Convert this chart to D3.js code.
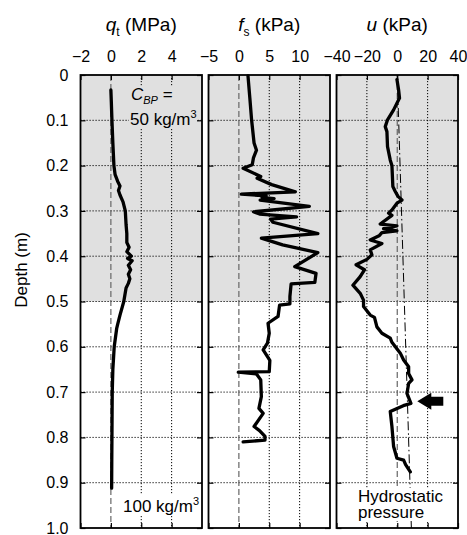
<!DOCTYPE html>
<html lang="en">
<head>
  <meta charset="utf-8">
  <title>CPT profiles</title>
  <script src="https://d3js.org/d3.v7.min.js"></script>
  <style>
    body { margin: 0; background: #fff; }
    svg text { font-family: "Liberation Sans", Arial, sans-serif; fill: #000; }
  </style>
</head>
<body>
  <div id="chart"></div>

  <script>
    // depth axis
    var depthTicks = [0, 0.1, 0.2, 0.3, 0.4, 0.5, 0.6, 0.7, 0.8, 0.9, 1.0];
    var shadeDepth = [0, 0.5];

    // tick labels per panel
    var qtTicks = [-2, 0, 2, 4];
    var fsTicks = [-5, 0, 5, 10];
    var uTicks = [-40, -20, 0, 20, 40];

    // q_t (MPa)
    var qtDepth = [0.033, 0.06, 0.1, 0.15, 0.2, 0.22, 0.235, 0.245, 0.255, 0.265, 0.28, 0.3, 0.33, 0.35, 0.37, 0.38,
                   0.39, 0.4, 0.405, 0.41, 0.42, 0.43, 0.44, 0.45, 0.46, 0.47, 0.5, 0.53, 0.55, 0.56, 0.58, 0.6,
                   0.65, 0.7, 0.75, 0.8, 0.85, 0.912];
    var qtValue = [0.0, 0.03, 0.07, 0.13, 0.2, 0.28, 0.45, 0.6, 0.5, 0.6, 0.8, 0.95, 1.0, 1.05, 1.05, 1.2,
                   1.05, 1.35, 1.1, 1.4, 1.15, 1.3, 1.15, 1.25, 1.15, 1.0, 0.85, 0.6, 0.45, 0.38, 0.3, 0.22,
                   0.13, 0.09, 0.08, 0.07, 0.06, 0.05];

    // f_s (kPa)
    var fsDepth = [0.002, 0.05, 0.1, 0.15, 0.166, 0.183, 0.198, 0.206, 0.224, 0.228, 0.242, 0.258, 0.263, 0.267,
                   0.27, 0.273, 0.276, 0.29, 0.302, 0.307, 0.313, 0.318, 0.325, 0.35, 0.36, 0.375, 0.392, 0.423,
                   0.438, 0.458, 0.461, 0.489, 0.505, 0.508, 0.533, 0.548, 0.57, 0.592, 0.607, 0.63, 0.655,
                   0.656, 0.66, 0.673, 0.71, 0.736, 0.747, 0.776, 0.785, 0.798, 0.806, 0.81];
    var fsValue = [1.5, 1.8, 2.1, 2.5, 2.9, 2.4, 2.2, 0.7, 3.6, 3.0, 5.4, 9.3, 0.4, 4.5,
                   3.8, 5.8, 3.5, 11.6, 2.4, 3.4, 9.5, 5.2, 5.6, 13.0, 3.7, 7.2, 13.0, 9.2,
                   12.7, 12.5, 8.6, 8.4, 8.4, 6.7, 6.45, 4.8, 5.0, 4.7, 4.0, 5.1, 5.0,
                   -0.1, 2.9, 3.6, 3.7, 3.3, 4.0, 2.5, 3.4, 4.3, 4.3, 0.7];

    // u (kPa)
    var uDepth = [0.01, 0.033, 0.051, 0.077, 0.099, 0.114, 0.125, 0.158, 0.188, 0.2, 0.246, 0.257, 0.268, 0.276,
                  0.283, 0.298, 0.305, 0.31, 0.329, 0.333, 0.339, 0.344, 0.348, 0.355, 0.364, 0.368, 0.372,
                  0.386, 0.397, 0.407, 0.419, 0.43, 0.445, 0.464, 0.482, 0.497, 0.511, 0.53, 0.535, 0.556,
                  0.57, 0.581, 0.59, 0.614, 0.629, 0.644, 0.659, 0.673, 0.681, 0.703, 0.725, 0.73, 0.743,
                  0.776, 0.82, 0.846, 0.85, 0.86, 0.876];
    var uValue = [-0.2, 0.9, 1.5, -2.4, -6.4, -7.9, -6.8, -6.4, -4.6, -3.5, -2.9, -1.3, 0.5, 3.1,
                  -0.2, -3.5, -5.7, -3.5, -11.2, -0.2, -9.0, -0.2, -10.1, -12, -17.8, -14, -10.1,
                  -17.8, -16.7, -20, -27.1, -21.6, -24.4, -29.2, -24.4, -22.2, -22.2, -17.8, -15, -13.4,
                  -10.1, -4.6, -3.5, 2.0, 4.2, 7.5, 7.5, 9.7, 7.5, 6.4, 9.0, 4.0, -4.6,
                  -3.5, -2.4, -0.2, 4.2, 5.5, 8.6];

    // hydrostatic pressure line (kPa)
    var hydroDepth = [0, 1.0];
    var hydroU = [0, 9.3];

    var width = 467, height = 535;
    var plotTop = 75, plotBottom = 528, panelW = 121.5;
    var shadeColor = "#e0e0e0";

    var svg = d3.select("#chart").append("svg")
      .attr("width", width)
      .attr("height", height);

    var y = d3.scaleLinear().domain([0, 1]).range([plotTop, plotBottom]);

    var panels = [
      { left: 80.5, domain: [-2, 6], ticks: qtTicks, grid: [0, 2, 4], depth: qtDepth, values: qtValue,
        sym: "q", sub: "t", unit: " (MPa)" },
      { left: 208.5, domain: [-5, 15], ticks: fsTicks, grid: [0, 5, 10], depth: fsDepth, values: fsValue,
        sym: "f", sub: "s", unit: " (kPa)" },
      { left: 336.5, domain: [-40, 40], ticks: uTicks, grid: [-20, 0, 20], depth: uDepth, values: uValue,
        sym: "u", sub: "", unit: " (kPa)" }
    ];

    panels.forEach(function(p) {
      p.x = d3.scaleLinear().domain(p.domain).range([p.left, p.left + panelW]);
    });

    // background box behind one or more texts
    function addBg(g, texts, color, pad) {
      var boxes = texts.map(t => t.node().getBBox());
      var x0 = d3.min(boxes, b => b.x), x1 = d3.max(boxes, b => b.x + b.width);
      var y0 = d3.min(boxes, b => b.y), y1 = d3.max(boxes, b => b.y + b.height);
      g.insert("rect", function() { return texts[0].node(); })
        .attr("x", x0 - pad).attr("y", y0 + pad)
        .attr("width", x1 - x0 + 2 * pad).attr("height", y1 - y0 - 2 * pad)
        .attr("fill", color);
    }

    panels.forEach(function(p, i) {
      var x = p.x;
      var g = svg.append("g");

      // shading for the upper layer
      g.append("rect")
        .attr("x", x.range()[0]).attr("y", y(shadeDepth[0]))
        .attr("width", panelW).attr("height", y(shadeDepth[1]) - y(shadeDepth[0]))
        .attr("fill", shadeColor);

      // horizontal grid
      g.selectAll(".hgrid")
        .data(depthTicks.slice(1, -1))
        .enter().append("line")
        .attr("x1", x.range()[0]).attr("x2", x.range()[1])
        .attr("y1", d => y(d)).attr("y2", d => y(d))
        .attr("stroke", "#000").attr("stroke-width", 1)
        .attr("stroke-dasharray", "1.2,1.8");

      // vertical grid (zero line dashed grey)
      g.selectAll(".vgrid")
        .data(p.grid)
        .enter().append("line")
        .attr("x1", d => x(d)).attr("x2", d => x(d))
        .attr("y1", plotTop).attr("y2", plotBottom)
        .attr("stroke", d => d === 0 ? "#666" : "#000")
        .attr("stroke-width", d => d === 0 ? 1.2 : 1)
        .attr("stroke-dasharray", d => d === 0 ? "6,3" : "1.2,1.8");

      if (i === 2) {
        g.append("path")
          .datum(d3.zip(hydroDepth, hydroU))
          .attr("fill", "none")
          .attr("stroke", "#000")
          .attr("stroke-width", 1)
          .attr("stroke-dasharray", "9,3,1.5,3")
          .attr("d", d3.line().x(d => x(d[1])).y(d => y(d[0])));
      }

      // annotations
      if (i === 0) {
        var t1 = g.append("text").attr("x", 131).attr("y", 100).style("font-size", "17px");
        t1.append("tspan").style("font-style", "italic").text("C");
        t1.append("tspan").style("font-style", "italic").style("font-size", "11px").attr("dy", 4).text("BP");
        t1.append("tspan").attr("dy", -4).text(" =");
        var t2 = g.append("text").attr("x", 130).attr("y", 125).style("font-size", "17px");
        t2.append("tspan").text("50 kg/m");
        t2.append("tspan").style("font-size", "11px").attr("dy", -7).text("3");
        addBg(g, [t1, t2], shadeColor, 1);

        var t3 = g.append("text").attr("x", 123).attr("y", 512).style("font-size", "17px");
        t3.append("tspan").text("100 kg/m");
        t3.append("tspan").style("font-size", "11px").attr("dy", -7).text("3");
        addBg(g, [t3], "#fff", 0);
      }
      if (i === 2) {
        var h1 = g.append("text").attr("x", 358).attr("y", 502).style("font-size", "17px").text("Hydrostatic");
        var h2 = g.append("text").attr("x", 358).attr("y", 518).style("font-size", "17px").text("pressure");
        addBg(g, [h1, h2], "#fff", 1);
      }

      // data line
      g.append("path")
        .datum(d3.zip(p.depth, p.values))
        .attr("fill", "none")
        .attr("stroke", "#000")
        .attr("stroke-width", 3.3)
        .attr("stroke-linejoin", "round")
        .attr("stroke-linecap", "round")
        .attr("d", d3.line().x(d => x(d[1])).y(d => y(d[0])));

      if (i === 2) {
        // arrow marking the pore-pressure jump
        var ax = x(13.2), ay = y(0.72);
        g.append("path")
          .attr("transform", "translate(" + ax + "," + ay + ")")
          .attr("d", "M0,0 L14,-8.5 L14,-4.5 L26,-4.5 L26,4.5 L14,4.5 L14,8.5 Z")
          .attr("fill", "#000");
      }

      // inward ticks + labels
      var topAxis = g.append("g")
        .attr("transform", "translate(0," + plotTop + ")")
        .call(d3.axisTop(x).tickValues(p.ticks).tickSize(-5).tickPadding(13));
      var bottomAxis = g.append("g")
        .attr("transform", "translate(0," + plotBottom + ")")
        .call(d3.axisBottom(x).tickValues(p.ticks).tickSize(-5).tickFormat(""));
      var leftAxis = g.append("g")
        .attr("transform", "translate(" + x.range()[0] + ",0)")
        .call(d3.axisLeft(y).tickValues(depthTicks).tickSize(-5).tickPadding(12)
          .tickFormat(d => d === 0 ? "0" : d3.format(".1f")(d)));
      var rightAxis = g.append("g")
        .attr("transform", "translate(" + x.range()[1] + ",0)")
        .call(d3.axisRight(y).tickValues(depthTicks).tickSize(-5).tickFormat(""));

      [topAxis, bottomAxis, leftAxis, rightAxis].forEach(function(a) {
        a.select(".domain").remove();
        a.selectAll(".tick line").attr("stroke", "#000").attr("stroke-width", 1.2);
        a.selectAll("text").attr("font-family", null).attr("font-size", null).style("font-size", "16px");
      });
      if (i !== 0) leftAxis.selectAll("text").remove();

      // border
      g.append("rect")
        .attr("x", x.range()[0]).attr("y", plotTop)
        .attr("width", panelW).attr("height", plotBottom - plotTop)
        .attr("fill", "none").attr("stroke", "#000").attr("stroke-width", 1.8);

      // panel title
      var title = svg.append("text")
        .attr("x", p.left + panelW / 2).attr("y", 31)
        .attr("text-anchor", "middle")
        .style("font-size", "19px");
      title.append("tspan").style("font-style", "italic").text(p.sym);
      if (p.sub) {
        title.append("tspan").style("font-size", "12px").attr("dy", 5).text(p.sub);
        title.append("tspan").attr("dy", -5).text(p.unit);
      } else {
        title.append("tspan").text(p.unit);
      }
    });

    svg.append("text")
      .attr("transform", "translate(27,270) rotate(-90)")
      .attr("text-anchor", "middle")
      .style("font-size", "17px")
      .text("Depth (m)");
  </script>
</body>
</html>
